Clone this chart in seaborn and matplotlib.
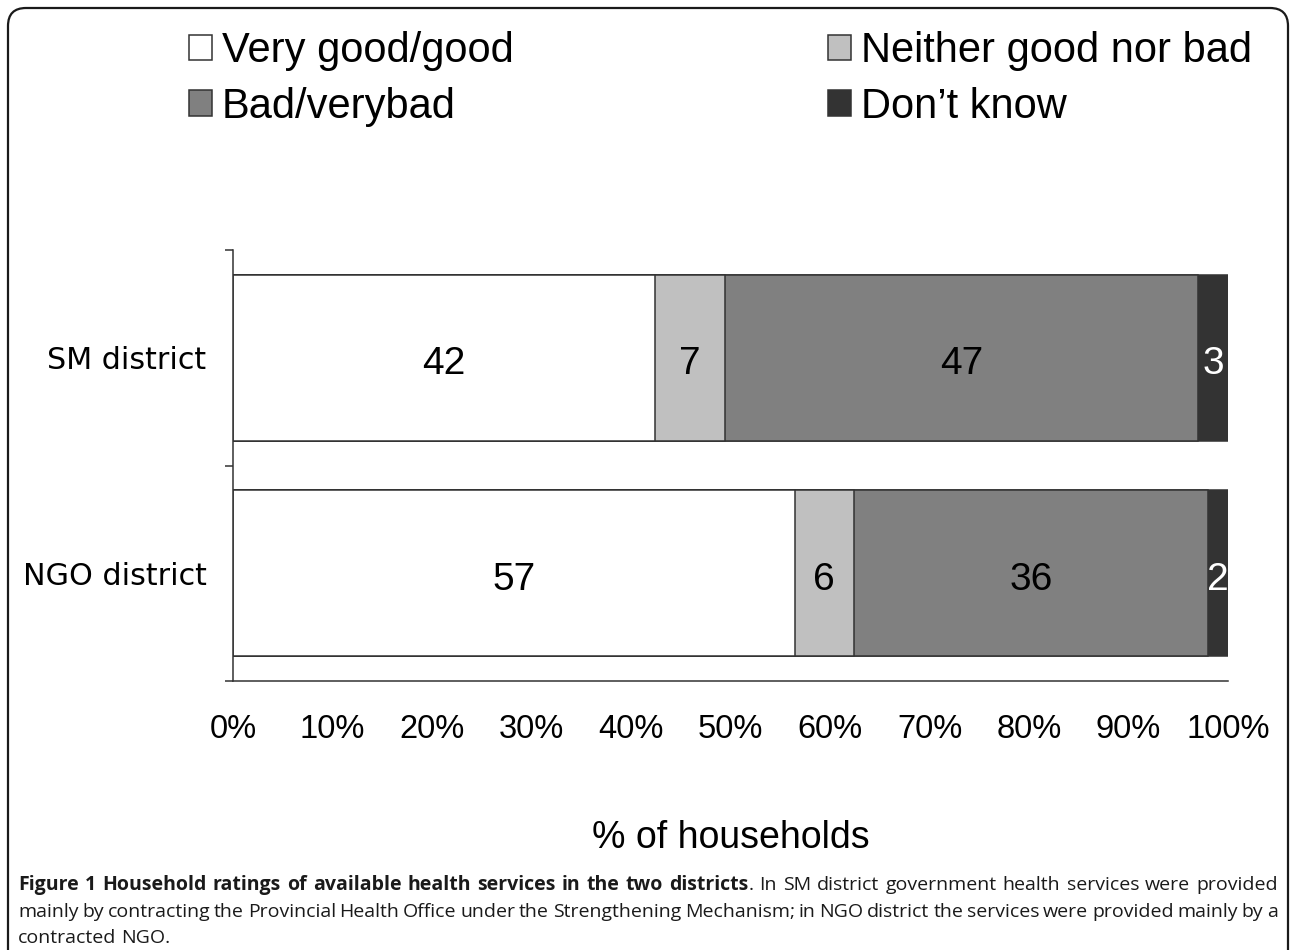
import numpy as np
import pandas as pd
import matplotlib
matplotlib.use("Agg")
import matplotlib.pyplot as plt
import seaborn as sns
from matplotlib.patches import Patch, FancyBboxPatch
from matplotlib.transforms import IdentityTransform

# ---------------- data ----------------
districts = ["SM district", "NGO district"]
categories = ["Very good/good", "Neither good nor bad", "Bad/verybad", "Don\u2019t know"]
sm_values = [42, 7, 47, 3]
ngo_values = [57, 6, 36, 2]
xtick_values = [0, 10, 20, 30, 40, 50, 60, 70, 80, 90, 100]
xtick_labels = ["0%", "10%", "20%", "30%", "40%", "50%", "60%", "70%", "80%", "90%", "100%"]
x_label = "% of households"
caption_bold = "Figure 1 Household ratings of available health services in the two districts"
caption_lines = [
    ". In SM district government health services were provided",
    "mainly by contracting the Provincial Health Office under the Strengthening Mechanism; "
    "in NGO district the services were provided mainly by a",
    "contracted NGO.",
]

# ---------------- style ----------------
seg_colors = ["#FFFFFF", "#C0C0C0", "#808080", "#333333"]
label_colors = ["black", "black", "black", "white"]
edge = "#333333"

sns.set_style("white")
plt.rcParams["font.family"] = ["Liberation Sans", "DejaVu Sans"]
plt.rcParams["text.color"] = "black"
plt.rcParams["axes.labelcolor"] = "black"

W, H = 1290, 950
fig = plt.figure(figsize=(W / 100, H / 100), dpi=100)
ax = fig.add_axes([233 / W, 1 - 681 / H, (1228 - 233) / W, (681 - 250) / H])

# long-form table, normalised to 100 % per district
rows = []
for d, vals in zip(districts, [sm_values, ngo_values]):
    total = sum(vals)
    cum = 0.0
    for c, v in zip(categories, vals):
        pct = v / total * 100
        rows.append(dict(district=d, category=c, value=v, start=cum, cum=cum + pct))
        cum += pct
df = pd.DataFrame(rows)

# draw cumulative layers, widest first
for k in reversed(range(len(categories))):
    sub = df[df["category"] == categories[k]]
    sns.barplot(data=sub, x="cum", y="district", order=districts, orient="h",
                color=seg_colors[k], saturation=1, edgecolor=edge, linewidth=1.1,
                width=0.77, errorbar=None, ax=ax)

# value labels
for _, r in df.iterrows():
    k = categories.index(r["category"])
    yi = districts.index(r["district"])
    ax.text((r["start"] + r["cum"]) / 2, yi + 0.03, str(r["value"]), ha="center", va="center",
            fontsize=28, color=label_colors[k], family="Liberation Sans")

ax.set_xlim(0, 100)
ax.set_ylim(1.5, -0.5)
ax.set_xticks(xtick_values)
ax.set_xticklabels(xtick_labels, fontsize=23.5)
ax.set_yticks(range(len(districts)))
ax.set_yticklabels(districts, fontsize=21.7, family="DejaVu Sans")
ax.set_yticks([-0.5, 0.5, 1.5], minor=True)
ax.tick_params(axis="x", which="major", length=7, width=1.1, color=edge, direction="out",
               pad=17, labelcolor="black")
ax.tick_params(axis="y", which="major", length=0, pad=19, labelcolor="black")
ax.tick_params(axis="y", which="minor", length=6, width=1.1, color=edge, direction="out", left=True)
ax.set_ylabel("")
ax.set_xlabel(x_label, fontsize=27, family="Liberation Sans", color="black")
ax.xaxis.set_label_coords(0.5, -0.322)
for s in ["top", "right"]:
    ax.spines[s].set_visible(False)
for s in ["left", "bottom"]:
    ax.spines[s].set_color(edge)
    ax.spines[s].set_linewidth(1.1)

# legend (two columns: column 1 = good / bad, column 2 = neither / don't know)
leg_order = [0, 2, 1, 3]
handles = [Patch(facecolor=seg_colors[i], edgecolor=edge, linewidth=1.1) for i in leg_order]
labels = [categories[i] for i in leg_order]
fig.legend(handles, labels, ncol=2, loc="center left",
           bbox_to_anchor=(189 / W, 1 - 79 / H), frameon=False, fontsize=30,
           handlelength=0.55, handleheight=0.55, handletextpad=0.24,
           columnspacing=7.55, labelspacing=0.37, borderpad=0, borderaxespad=0)

# outer rounded frame
frame = FancyBboxPatch((8, -60), 1280, 942 + 60, boxstyle="round,pad=0,rounding_size=18",
                       transform=IdentityTransform(), facecolor="none", edgecolor="#1a1a1a",
                       linewidth=1.6, clip_on=False)
fig.add_artist(frame)

# caption, justified (first two lines), last line left aligned
cap_fs = 14
cap_font = ["Open Sans", "DejaVu Sans"]
renderer = fig.canvas.get_renderer()


def seg_width(seg, weight):
    t = fig.text(0, 0, seg, fontsize=cap_fs, family=cap_font, weight=weight)
    w = t.get_window_extent(renderer).width
    t.remove()
    return w


first_rest = caption_lines[0].split(" ")
line1 = [[(w, "bold")] for w in caption_bold.split(" ")]
line1[-1].append((first_rest[0], "normal"))
line1 += [[(w, "normal")] for w in first_rest[1:]]
lines = [line1] + [[[(w, "normal")] for w in ln.split(" ")] for ln in caption_lines[1:]]

left, right = 18, 1278
space_w = seg_width("a b", "normal") - seg_width("ab", "normal")
baselines = [890, 917, 943]
for li, line in enumerate(lines):
    widths = [sum(seg_width(s, wt) for s, wt in w) for w in line]
    total = sum(widths)
    last = li == len(lines) - 1
    gap = space_w if (last or len(line) < 2) else (right - left - total) / (len(line) - 1)
    x = left
    for w, ww in zip(line, widths):
        xx = x
        for s, wt in w:
            fig.text(xx / W, 1 - baselines[li] / H, s, fontsize=cap_fs, family=cap_font,
                     weight=wt, ha="left", va="baseline", color="#1a1a1a")
            xx += seg_width(s, wt)
        x += ww + gap

fig.savefig("out.png", dpi=100)
